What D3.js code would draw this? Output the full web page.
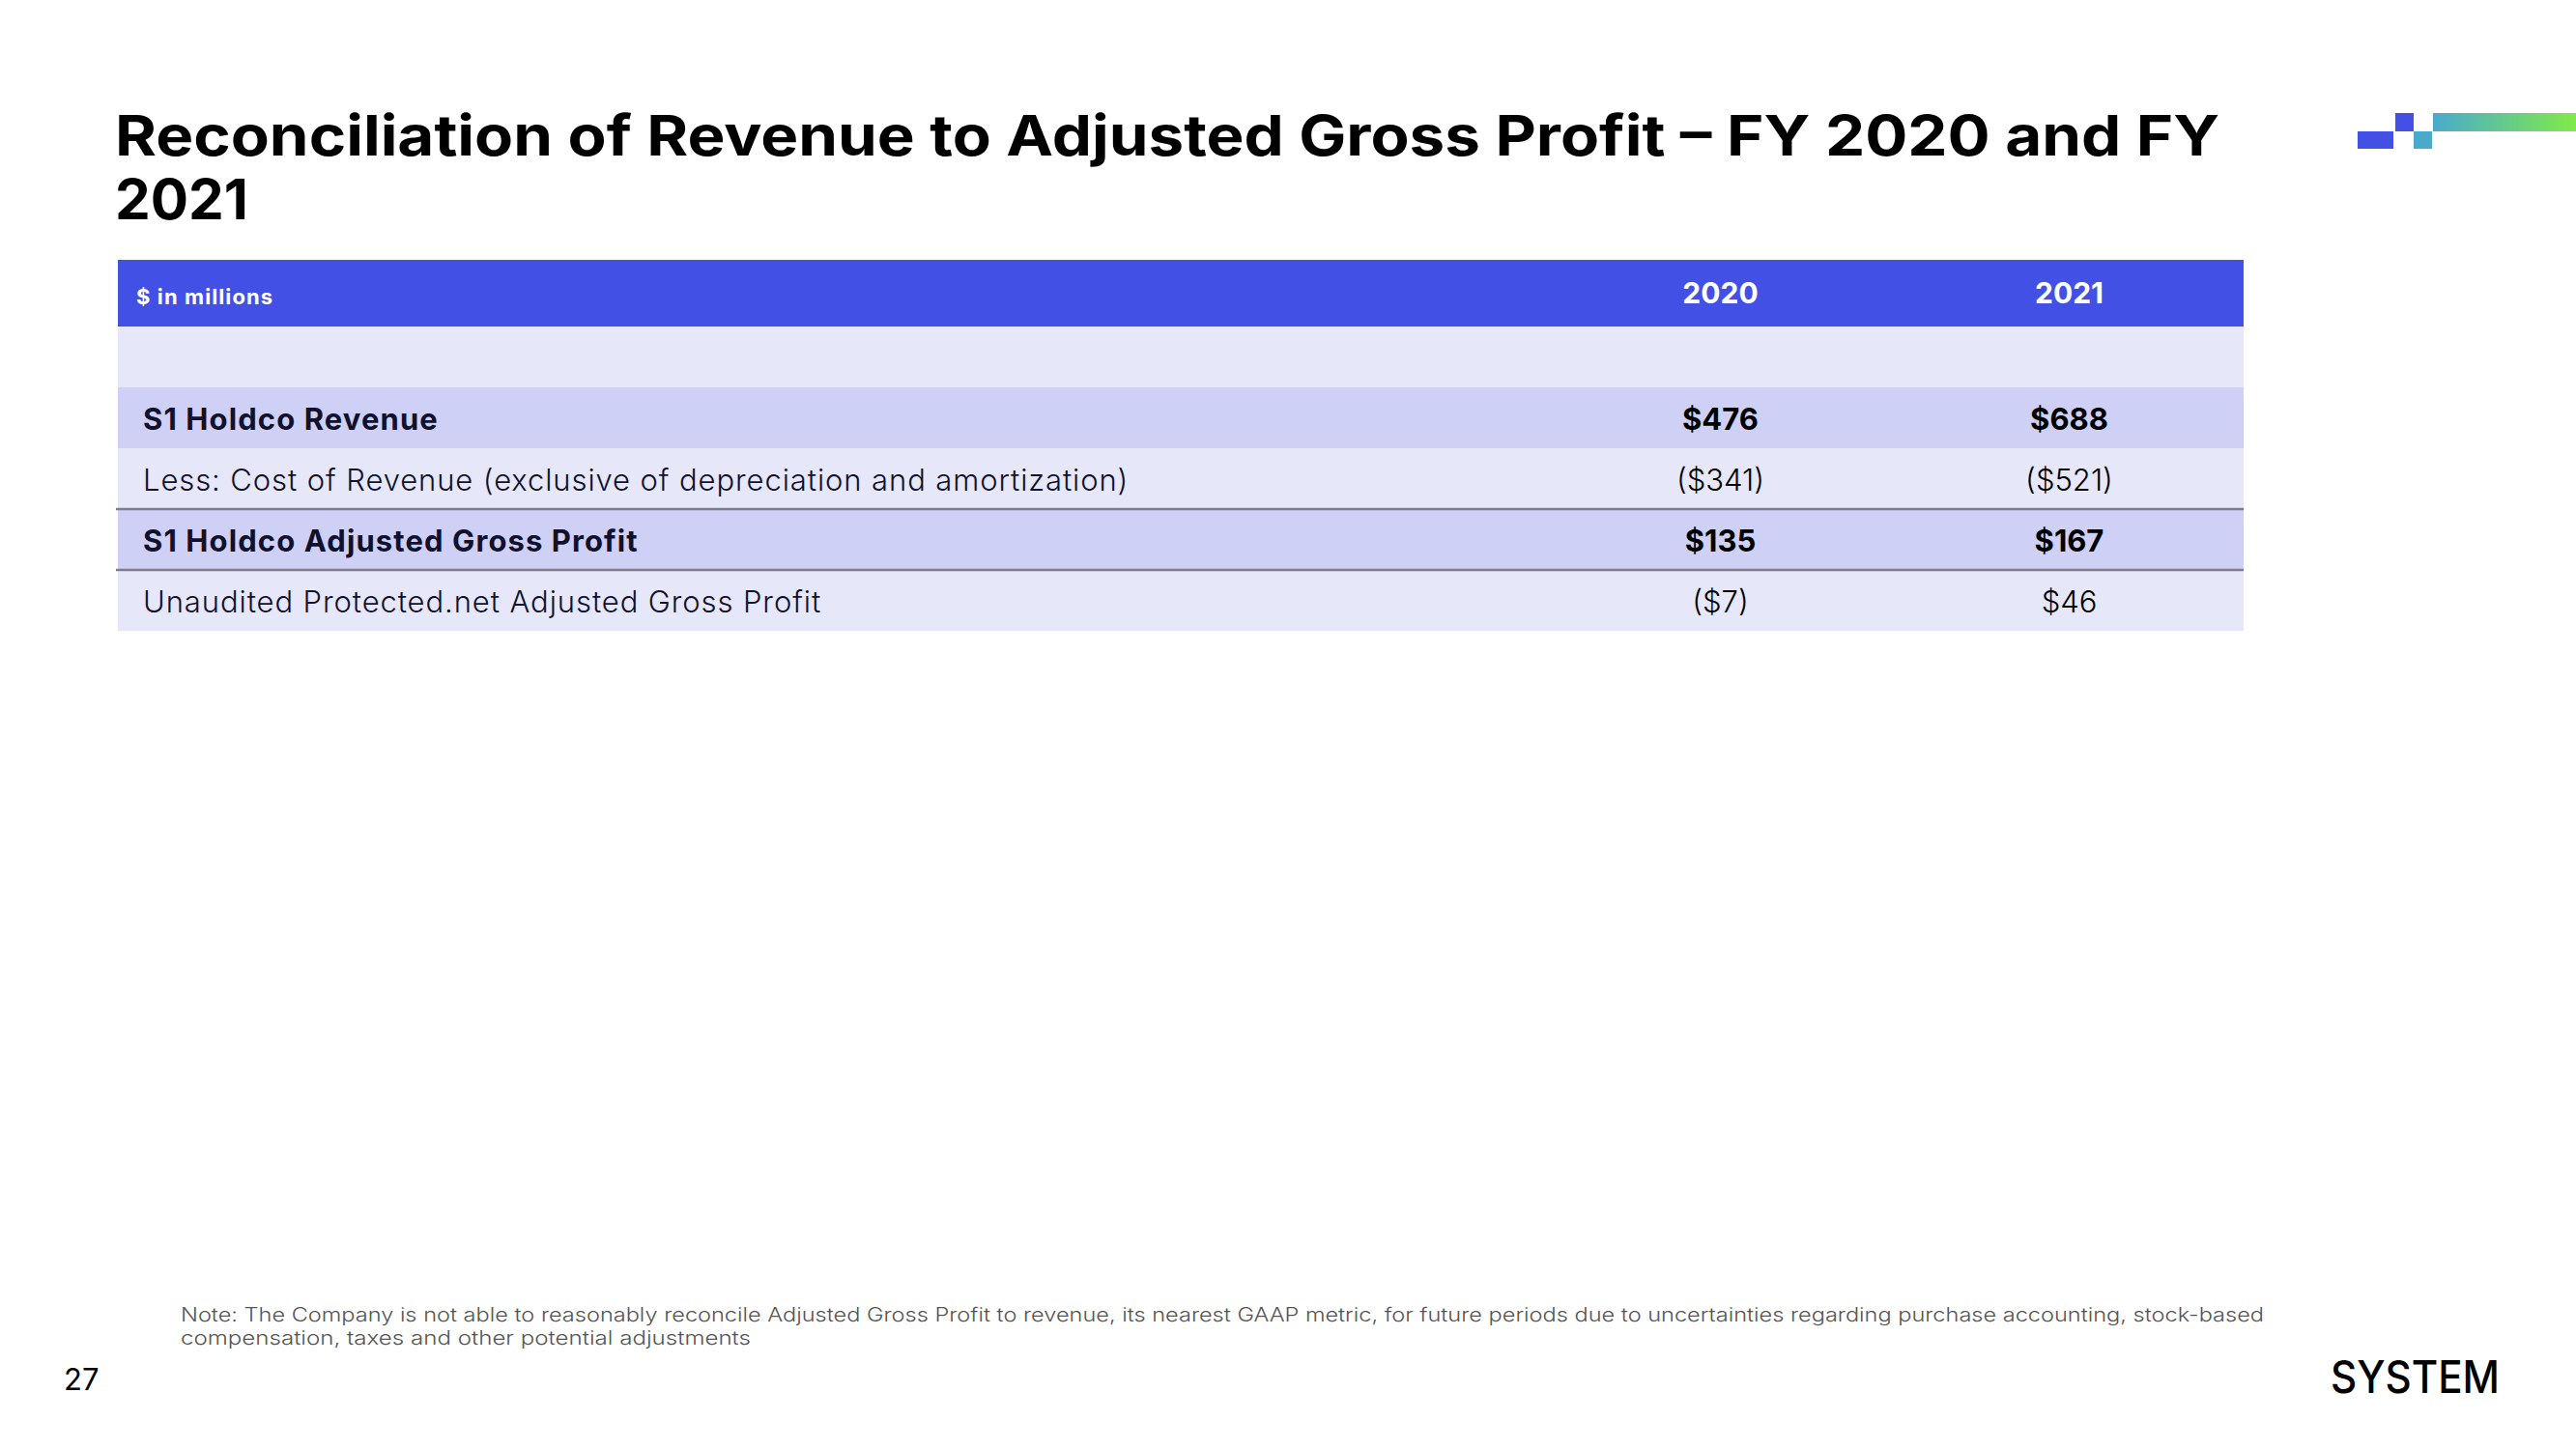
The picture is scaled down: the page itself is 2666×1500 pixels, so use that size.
<!DOCTYPE html>
<html>
<head>
<meta charset="utf-8">
<script src="https://cdn.jsdelivr.net/npm/d3@7"></script>
<style>
  html, body { margin: 0; padding: 0; background: #ffffff; }
  svg { display: block; }
</style>
</head>
<body>
<script>
// ---- data ----
const titleLines = ["Reconciliation of Revenue to Adjusted Gross Profit \u2013 FY 2020 and FY", "2021"];
const unitLabel = "$ in millions";
const years = ["2020", "2021"];
const rowLabels = [
  "",
  "S1 Holdco Revenue",
  "Less: Cost of Revenue (exclusive of depreciation and amortization)",
  "S1 Holdco Adjusted Gross Profit",
  "Unaudited Protected.net Adjusted Gross Profit"
];
const rowKinds = ["spacer", "total", "item", "total", "item"];
const values2020 = [null, 476, -341, 135, -7];
const values2021 = [null, 688, -521, 167, 46];
const noteLines = [
  "Note: The Company is not able to reasonably reconcile Adjusted Gross Profit to revenue, its nearest GAAP metric, for future periods due to uncertainties regarding purchase accounting, stock-based",
  "compensation, taxes and other potential adjustments"
];
const pageNumber = "27";
const brand = "SYSTEM";

// ---- layout ----
const W = 2666, H = 1500;
const FONT = "Inter, 'Open Sans', 'Noto Sans', sans-serif";
const BLUE = "#4350e6";
const LIGHT = "#e6e7f9";
const DARK = "#cfd0f5";
const fmt = v => v == null ? "" : (v < 0 ? "($" + Math.abs(v) + ")" : "$" + v);

const svg = d3.select("body").append("svg").attr("width", W).attr("height", H)
  .style("font-family", FONT);

// title (two lines, as in the reference)
svg.selectAll("text.title").data(titleLines).join("text").attr("class", "title")
  .attr("x", 119).attr("y", (d, i) => 161 + i * 66)
  .attr("fill", "#000").attr("font-weight", 700).attr("font-size", 58)
  .attr("textLength", (d, i) => i === 0 ? 2178 : 138).attr("lengthAdjust", "spacingAndGlyphs")
  .text(d => d);

// logo top right
const defs = svg.append("defs");
const grad = defs.append("linearGradient").attr("id", "g1").attr("x1", "0").attr("x2", "1");
grad.append("stop").attr("offset", "0").attr("stop-color", "#4aaacd");
grad.append("stop").attr("offset", "1").attr("stop-color", "#80ea48");
svg.append("rect").attr("x", 2440).attr("y", 136).attr("width", 37).attr("height", 18).attr("fill", BLUE);
svg.append("rect").attr("x", 2479).attr("y", 117).attr("width", 19).attr("height", 19).attr("fill", BLUE);
svg.append("rect").attr("x", 2498).attr("y", 136).attr("width", 19).attr("height", 18).attr("fill", "#4aaacb");
svg.append("rect").attr("x", 2518).attr("y", 117).attr("width", 148).attr("height", 19).attr("fill", "url(#g1)");

// table scales
const tableLeft = 122, tableRight = 2322;
const headerTop = 269, headerBottom = 338;
const y = d3.scaleBand().domain(d3.range(rowLabels.length)).range([headerBottom, 653]).padding(0);
const x = d3.scaleBand().domain(years).range([1600, tableRight]).padding(0);

// header
svg.append("rect").attr("x", tableLeft).attr("y", headerTop).attr("width", tableRight - tableLeft)
  .attr("height", headerBottom - headerTop).attr("fill", BLUE);
svg.append("text").attr("x", 141).attr("y", 315).attr("fill", "#fff").attr("font-weight", 700)
  .attr("font-size", 22).attr("letter-spacing", 1.1).text(unitLabel);
svg.selectAll("text.yr").data(years).join("text").attr("class", "yr")
  .attr("x", d => x(d) + x.bandwidth() / 2).attr("y", 314).attr("text-anchor", "middle")
  .attr("fill", "#fff").attr("font-weight", 700).attr("font-size", 30).text(d => d);

// rows
const rows = svg.selectAll("g.row").data(rowLabels.map((l, i) => ({
  i, label: l, kind: rowKinds[i], vals: [values2020[i], values2021[i]]
}))).join("g").attr("class", "row");
rows.append("rect").attr("x", tableLeft).attr("y", d => y(d.i)).attr("width", tableRight - tableLeft)
  .attr("height", y.bandwidth()).attr("fill", d => d.kind === "total" ? DARK : LIGHT);
rows.append("text").attr("x", 148).attr("y", d => y(d.i) + y.bandwidth() / 2 + 12)
  .attr("font-size", 31).attr("fill", "#10112e")
  .attr("font-weight", d => d.kind === "total" ? 700 : 300)
  .attr("letter-spacing", d => d.kind === "total" ? 1.1 : 0.9)
  .text(d => d.label);
rows.each(function (d) {
  d3.select(this).selectAll("text.v").data(years.map((yr, k) => ({ yr, v: d.vals[k], kind: d.kind })))
    .join("text").attr("class", "v")
    .attr("x", e => x(e.yr) + x.bandwidth() / 2).attr("y", y(d.i) + y.bandwidth() / 2 + 12)
    .attr("text-anchor", "middle").attr("font-size", 31).attr("fill", "#000")
    .attr("font-weight", e => e.kind === "total" ? 700 : 300)
    .text(e => fmt(e.v));
});
// separator lines below item row 2 and total row 3
[2, 3].forEach(i => {
  svg.append("line").attr("x1", tableLeft - 2).attr("x2", tableRight)
    .attr("y1", y(i) + y.bandwidth()).attr("y2", y(i) + y.bandwidth())
    .attr("stroke", "#7d7d8a").attr("stroke-width", 2.5);
});

// note
const note = svg.append("text").attr("fill", "#555").attr("font-weight", 300).attr("font-size", 20);
note.append("tspan").attr("x", 187).attr("y", 1368).attr("textLength", 2156).attr("lengthAdjust", "spacingAndGlyphs").text(noteLines[0]);
note.append("tspan").attr("x", 187).attr("y", 1392).attr("textLength", 590).attr("lengthAdjust", "spacingAndGlyphs").text(noteLines[1]);

// page number
svg.append("text").attr("x", 66).attr("y", 1439).attr("font-size", 31).attr("fill", "#000").attr("font-weight", 400).text(pageNumber);

// brand
svg.append("text").attr("x", 2412).attr("y", 1442).attr("font-size", 46).attr("fill", "#000")
  .attr("font-weight", 500).attr("textLength", 175).attr("lengthAdjust", "spacingAndGlyphs").text(brand);
</script>
</body>
</html>
